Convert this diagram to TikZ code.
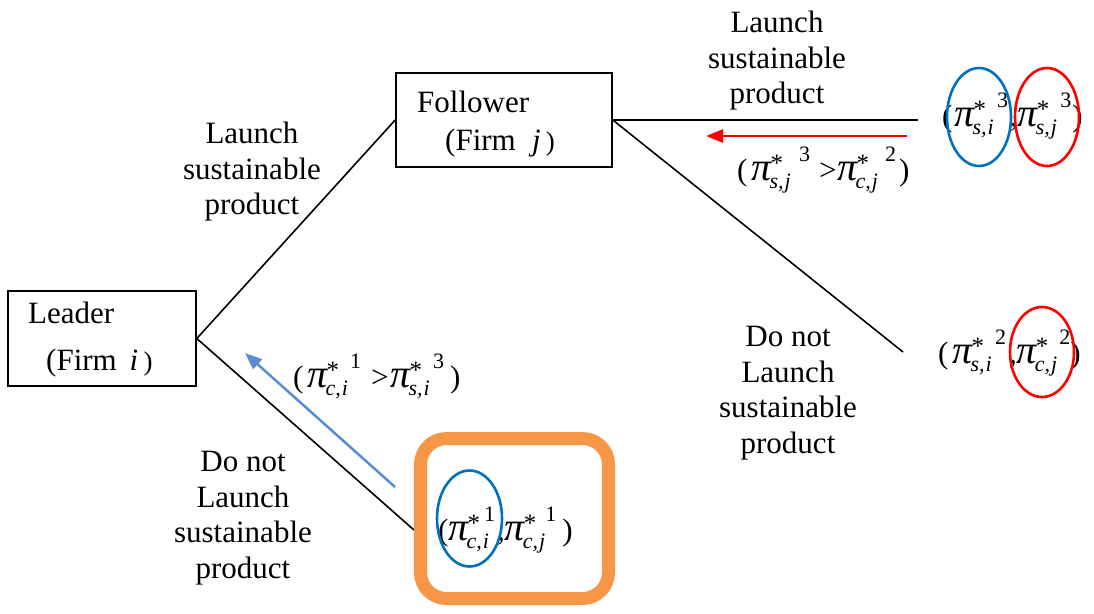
\documentclass[tikz,border=0pt]{standalone}
\usepackage{fontspec}
\setmainfont{Liberation Serif}
\usetikzlibrary{arrows.meta}

\definecolor{ellblue}{RGB}{0,112,192}
\definecolor{ellred}{RGB}{255,0,0}
\definecolor{arrblue}{RGB}{85,142,213}
\definecolor{boxorange}{RGB}{247,150,70}

% profit symbol: pi with star, period index and (firm, product) subscript
\newcommand\po[4][11pt]{%
  {\fontsize{40}{40}\selectfont\itshape π}%
  \rlap{\hspace{-2pt}\raisebox{-8pt}{\fontsize{22}{22}\selectfont\itshape #2,\hspace{1pt}#3}}%
  \hspace{-1pt}\raisebox{9pt}{\fontsize{25}{25}\selectfont *}%
  \hspace{#1}\raisebox{19pt}{\fontsize{22}{22}\selectfont #4}}

\tikzset{
  txt/.style={font=\fontsize{31}{35.5}\selectfont, inner sep=0pt},
  lbl/.style={txt, align=center, anchor=north},
  firmbox/.style={draw, line width=1.6pt, inner sep=0pt},
  branch/.style={line width=1.6pt},
  payoff/.style={txt, anchor=base west},
  ringblue/.style={draw=ellblue, line width=2.6pt},
  ringred/.style={draw=ellred, line width=2.6pt},
}

\begin{document}
\begin{tikzpicture}[x=1pt,y=-1pt]
\useasboundingbox (0,0) rectangle (1094,613);

% decision boxes
\node[firmbox, minimum width=188pt, minimum height=95pt] (leader) at (102,338.5) {};
\node[txt, anchor=base west] (leaderA) at (28,323) {Leader};
\node[txt, anchor=base west] (leaderB) at (46,370) {(Firm \,\textit{i}\,{\fontsize{27}{27}\selectfont)}};

\node[firmbox, minimum width=216pt, minimum height=94pt] (follower) at (504,120) {};
\node[txt, anchor=base west] (followerA) at (417,112) {Follower};
\node[txt, anchor=base west] (followerB) at (445,150) {(Firm \;\textit{j}\,{\fontsize{27}{27}\selectfont)}};

% branch end points
\coordinate (endTop) at (918,120);
\coordinate (endMid) at (903,352);
\coordinate (endLow) at (414,530);

\draw[branch] (leader.east) -- (follower.west);
\draw[branch] (leader.east) -- (endLow);
\draw[branch] (follower.east) -- (endTop);
\draw[branch] (follower.east) -- (endMid);

% branch labels
\node[lbl] (l1) at (252,122) {Launch\\sustainable\\product};
\node[lbl] (l2) at (777,11) {Launch\\sustainable\\product};
\node[lbl] (l3) at (788,326) {Do not\\Launch\\sustainable\\product};
\node[lbl] (l4) at (243,451) {Do not\\Launch\\sustainable\\product};

% payoffs
\node[payoff] (p3) at (942,126) {(\hspace{2pt}\po{s}{i}{3}\hspace{2pt},\po{s}{j}{3}\hspace{1pt})};
\node[payoff] (p2) at (938,363) {(\hspace{4pt}\po{s}{i}{2}\hspace{3pt},\po{c}{j}{2})};
\node[payoff] (p1) at (438,540) {(\po[4pt]{c}{i}{1}\hspace{2pt},\po[9pt]{c}{j}{1}\hspace{6pt})};

% comparison labels
\node[payoff] (cmpF) at (737,180) {(\hspace{4pt}\po[16pt]{s}{j}{3}\hspace{9pt}>\hspace{1pt}\po[16pt]{c}{j}{2}\hspace{3pt})};
\node[payoff] (cmpL) at (293,387) {(\hspace{4pt}\po{c}{i}{1}\hspace{10pt}>\hspace{2pt}\po{s}{i}{3}\hspace{6pt})};

% highlight rings
\draw[ringblue] (979,117) ellipse [x radius=32, y radius=49];
\draw[ringred] (1047,117) ellipse [x radius=32, y radius=49];
\draw[ringred] (1042,352) ellipse [x radius=32, y radius=45];
\draw[ringblue] (469.5,518.5) ellipse [x radius=32.5, y radius=48];

% equilibrium frame
\draw[boxorange, line width=13pt, rounded corners=26pt] (420.5,438.5) rectangle (608.5,598.5);

% backward-induction arrows
\coordinate (redS) at (907,136);
\coordinate (redE) at (706,136);
\coordinate (blueS) at (395,487);
\coordinate (blueE) at (245,353);
\draw[ellred, line width=2.5pt, -{Triangle[length=17pt,width=13pt]}] (redS) -- (redE);
\draw[arrblue, line width=2.5pt, -{Triangle[length=17pt,width=13pt]}] (blueS) -- (blueE);
\end{tikzpicture}
\end{document}
